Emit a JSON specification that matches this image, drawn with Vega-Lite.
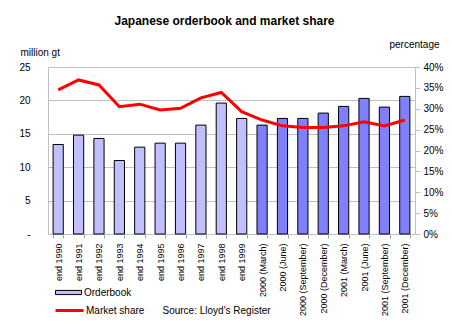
{
  "$schema": "https://vega.github.io/schema/vega-lite/v6.json",
  "autosize": {"type": "none"},
  "width": 367,
  "height": 167,
  "padding": {"left": 48, "top": 67, "right": 37, "bottom": 94},
  "background": "white",
  "config": {
    "view": {"stroke": null},
    "font": "Liberation Sans",
    "axis": {"labelColor": "black", "titleColor": "black", "labelFont": "Liberation Sans", "titleFont": "Liberation Sans", "titleFontWeight": "normal"},
    "legend": {"labelFont": "Liberation Sans", "labelColor": "black"}
  },
  "title": {
    "text": "Japanese orderbook and market share",
    "font": "Liberation Sans",
    "fontSize": 12,
    "fontWeight": "bold",
    "color": "black",
    "anchor": "middle",
    "baseline": "alphabetic",
    "dx": -7,
    "dy": 8,
    "offset": 10
  },
  "data": {
    "values": [
      {"period": "end 1990", "orderbook": 13.4, "share": 0.345, "kind": "Orderbook"},
      {"period": "end 1991", "orderbook": 14.8, "share": 0.369, "kind": "Orderbook"},
      {"period": "end 1992", "orderbook": 14.3, "share": 0.357, "kind": "Orderbook"},
      {"period": "end 1993", "orderbook": 11.0, "share": 0.305, "kind": "Orderbook"},
      {"period": "end 1994", "orderbook": 13.0, "share": 0.311, "kind": "Orderbook"},
      {"period": "end 1995", "orderbook": 13.6, "share": 0.297, "kind": "Orderbook"},
      {"period": "end 1996", "orderbook": 13.6, "share": 0.301, "kind": "Orderbook"},
      {"period": "end 1997", "orderbook": 16.3, "share": 0.326, "kind": "Orderbook"},
      {"period": "end 1998", "orderbook": 19.6, "share": 0.339, "kind": "Orderbook"},
      {"period": "end 1999", "orderbook": 17.3, "share": 0.293, "kind": "Orderbook"},
      {"period": "2000 (March)", "orderbook": 16.3, "share": 0.273, "kind": "Quarterly"},
      {"period": "2000 (June)", "orderbook": 17.3, "share": 0.259, "kind": "Quarterly"},
      {"period": "2000 (September)", "orderbook": 17.3, "share": 0.255, "kind": "Quarterly"},
      {"period": "2000 (December)", "orderbook": 18.1, "share": 0.255, "kind": "Quarterly"},
      {"period": "2001 (March)", "orderbook": 19.1, "share": 0.259, "kind": "Quarterly"},
      {"period": "2001 (June)", "orderbook": 20.3, "share": 0.269, "kind": "Quarterly"},
      {"period": "2001 (September)", "orderbook": 19.0, "share": 0.259, "kind": "Quarterly"},
      {"period": "2001 (December)", "orderbook": 20.6, "share": 0.273, "kind": "Quarterly"}
    ]
  },
  "layer": [
    {
      "mark": {"type": "bar", "stroke": "black", "strokeWidth": 1},
      "encoding": {
        "x": {
          "field": "period", "type": "nominal", "sort": null,
          "scale": {"paddingInner": 0.5, "paddingOuter": 0.25},
          "axis": {
            "labelAngle": 270, "labelFontSize": 9, "labelPadding": 5,
            "tickBand": "extent", "tickSize": 4, "tickColor": "#A0A0A0", "domainColor": "#C0C0C0",
            "title": "Source: Lloyd's Register", "titleFontSize": 10, "titleX": 114, "titleY": 79,
            "titleAlign": "left", "titleAnchor": "start", "titleBaseline": "alphabetic"
          }
        },
        "y": {
          "field": "orderbook", "type": "quantitative",
          "scale": {"domain": [0, 25], "nice": false},
          "axis": {
            "values": [0, 5, 10, 15, 20, 25], "ticks": false, "labelPadding": 18, "labelFontSize": 10,
            "labelExpr": "datum.value === 0 ? '-\u00a0\u00a0\u00a0\u00a0\u00a0' : datum.label",
            "grid": true, "gridColor": "#C0C0C0", "domainColor": "#C0C0C0",
            "title": "million gt", "titleAngle": 0, "titleFontSize": 10, "titleX": -28, "titleY": -12,
            "titleAlign": "left", "titleBaseline": "alphabetic"
          }
        },
        "fill": {
          "field": "kind", "type": "nominal",
          "scale": {"domain": ["Orderbook", "Quarterly"], "range": ["#C0C0FF", "#8080FF"]},
          "legend": {
            "values": ["Orderbook"], "title": null, "orient": "none", "legendX": 7, "legendY": 212,
            "padding": 0, "symbolType": "M-1,-0.16L1,-0.16L1,0.16L-1,0.16Z", "symbolSize": 676,
            "symbolStrokeColor": "black", "symbolStrokeWidth": 1, "labelFontSize": 10, "labelOffset": 2
          }
        }
      }
    },
    {
      "mark": {"type": "line", "strokeWidth": 3},
      "encoding": {
        "x": {"field": "period", "type": "nominal", "sort": null},
        "y": {
          "field": "share", "type": "quantitative",
          "scale": {"domain": [0, 0.4], "nice": false},
          "axis": {
            "orient": "right", "values": [0, 0.05, 0.1, 0.15, 0.2, 0.25, 0.3, 0.35, 0.4], "format": ".0%",
            "tickSize": 5, "tickColor": "#C0C0C0", "domainColor": "#C0C0C0", "labelPadding": 3, "labelFontSize": 10,
            "grid": false,
            "title": "percentage", "titleAngle": 0, "titleFontSize": 10, "titleX": -26, "titleY": -20,
            "titleAlign": "left", "titleBaseline": "alphabetic"
          }
        },
        "stroke": {
          "datum": "Market share",
          "scale": {"range": ["#FF0000"]},
          "legend": {
            "title": null, "orient": "none", "legendX": 6, "legendY": 228, "padding": 0,
            "symbolType": "stroke", "symbolSize": 784, "symbolStrokeWidth": 3,
            "labelFontSize": 10, "labelOffset": 1
          }
        }
      }
    }
  ],
  "resolve": {"scale": {"y": "independent"}}
}
